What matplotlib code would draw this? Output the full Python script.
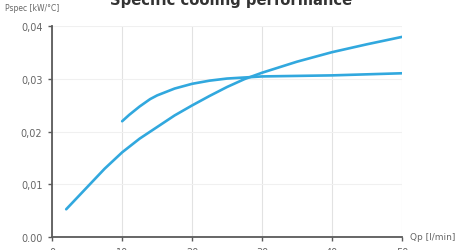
import matplotlib.pyplot as plt

## values
qp_a = [2, 5, 7.5, 10, 12.5, 15, 17.5, 20, 22.5, 25, 27.5, 30, 35, 40, 45, 50]
p_a = [0.0053, 0.0095, 0.0130, 0.0161, 0.0187, 0.0209, 0.0231, 0.0250, 0.0268, 0.0285, 0.0300, 0.0312, 0.0333, 0.0351, 0.0366, 0.0380]

qp_b = [10, 11, 12.5, 14, 15, 17.5, 20, 22.5, 25, 27.5, 30, 35, 40, 45, 50]
p_b = [0.0220, 0.0232, 0.0248, 0.0262, 0.0269, 0.0282, 0.0291, 0.0297, 0.0301, 0.0303, 0.0305, 0.0306, 0.0307, 0.0309, 0.0311]

x_ticks = [0, 10, 20, 30, 40, 50]
y_ticks = [0.00, 0.01, 0.02, 0.03, 0.04]
y_labels = ['0.00', '0,01', '0,02', '0,03', '0,04']

blue = '#31a8de'
axis_col = '#5a5a5a'

fig = plt.figure(figsize=(4.62, 2.51), dpi=100)
ax = fig.add_axes([0.113, 0.051, 0.757, 0.840])

ax.plot(qp_a, p_a, color=blue, lw=1.9, solid_capstyle='round', solid_joinstyle='round')
ax.plot(qp_b, p_b, color=blue, lw=1.9, solid_capstyle='round', solid_joinstyle='round')

ax.set_xlim(0, 50)
ax.set_ylim(0, 0.04)
ax.set_xticks(x_ticks)
ax.set_yticks(y_ticks)
ax.set_yticklabels(y_labels)

ax.grid(axis='x', color='#e2e2e2', lw=0.8)
ax.grid(axis='y', color='#f0f0f0', lw=0.8)
ax.set_axisbelow(True)

for s in ['top', 'right']:
    ax.spines[s].set_visible(False)
for s in ['left', 'bottom']:
    ax.spines[s].set_color(axis_col)
    ax.spines[s].set_linewidth(1.3)

ax.tick_params(colors=axis_col, labelcolor='#666666', labelsize=7, length=3, width=1, pad=4)

fig.text(0.888, 0.055, 'Qp [l/min]', fontsize=6.5, color='#666666', va='center', ha='left')
fig.text(0.01, 0.965, 'Pspec [kW/°C]', fontsize=5.5, color='#666666', va='center', ha='left')
fig.text(0.5, 1.0, 'Specific cooling performance', fontsize=10.6, fontweight='bold',
         color='#333333', va='center', ha='center')

fig.savefig('out.png', dpi=100)
